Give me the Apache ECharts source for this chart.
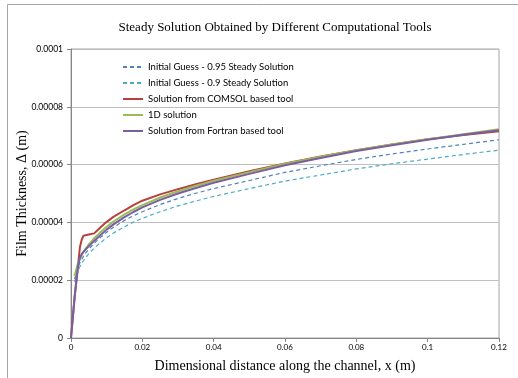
<!DOCTYPE html>
<html>
<head>
<meta charset="utf-8">
<script src="https://cdn.jsdelivr.net/npm/echarts@6/dist/echarts.min.js"></script>
<style>
  html, body { margin: 0; padding: 0; background: #fff; }
  #chart1 { width: 518px; height: 378px; }
</style>
</head>
<body>
<div id="chart1"></div>
<script>
// x positions along the channel (m)
const xs = [0, 0.001, 0.002, 0.0025, 0.003, 0.0035, 0.004, 0.005, 0.0065, 0.008, 0.01, 0.012, 0.015, 0.0175, 0.02,
  0.025, 0.03, 0.035, 0.04, 0.05, 0.06, 0.07, 0.08, 0.09, 0.1, 0.11, 0.12];

// film thickness, in units of 1e-5 m ('-' = no point)
const guess095 = ['-', 2.04, 2.45, 2.6, 2.73, 2.83, 2.92, 3.08, 3.28, 3.45, 3.66, 3.84, 4.07, 4.23, 4.37,
  4.62, 4.83, 5.01, 5.17, 5.45, 5.73, 5.96, 6.18, 6.37, 6.54, 6.7, 6.86];
const guess090 = ['-', 1.94, 2.33, 2.47, 2.58, 2.68, 2.76, 2.92, 3.11, 3.27, 3.47, 3.64, 3.85, 4.01, 4.14,
  4.37, 4.57, 4.74, 4.9, 5.17, 5.43, 5.64, 5.85, 6.03, 6.19, 6.35, 6.5];
const comsol = [0, 1.4, 2.55, 3.14, 3.4, 3.54, 3.56, 3.58, 3.62, 3.8, 4.02, 4.2, 4.42, 4.6, 4.75,
  4.97, 5.15, 5.32, 5.48, 5.77, 6.04, 6.28, 6.5, 6.7, 6.88, 7.02, 7.15];
const oneD = ['-', 2.15, 2.6, 2.74, 2.87, 2.98, 3.07, 3.24, 3.45, 3.63, 3.85, 4.04, 4.28, 4.45, 4.6,
  4.86, 5.08, 5.27, 5.44, 5.74, 6.03, 6.27, 6.5, 6.7, 6.88, 7.05, 7.22];
const fortran = [0, 1.4, 2.52, 2.78, 2.9, 2.98, 3.05, 3.18, 3.36, 3.53, 3.75, 3.94, 4.18, 4.36, 4.52,
  4.78, 5.0, 5.19, 5.37, 5.68, 5.98, 6.23, 6.47, 6.67, 6.86, 7.03, 7.19];

const seriesNames = [
  'Initial Guess - 0.95 Steady Solution',
  'Initial Guess - 0.9 Steady Solution',
  'Solution from COMSOL based tool',
  '1D solution',
  'Solution from Fortran based tool'
];

const toPairs = (vals) => xs.map((x, i) => [x, vals[i] === '-' ? '-' : vals[i] * 1e-5]);

const chartDiv = document.getElementById('chart1');
const myChart = echarts.init(chartDiv, null, { renderer: 'canvas' });

const mkLine = (name, vals, color, width, dashed) => ({
  name: name,
  type: 'line',
  data: toPairs(vals),
  symbol: 'none',
  smooth: false,
  connectNulls: false,
  color: color,
  lineStyle: { color: color, width: width, type: dashed ? [4, 3] : 'solid' }
});

const option = {
  animation: false,
  backgroundColor: '#fff',
  graphic: [
    {
      type: 'rect',
      shape: { x: 7.5, y: 4.5, width: 620, height: 400 },
      style: { fill: 'none', stroke: '#a6a6a6', lineWidth: 1 }
    },
    {
      type: 'text',
      x: 275, y: 28,
      style: {
        text: 'Steady Solution Obtained by Different Computational Tools',
        font: '13px "Liberation Serif"',
        fill: '#000',
        textAlign: 'center',
        textVerticalAlign: 'middle'
      }
    }
  ],
  grid: {
    left: 71, right: 19, top: 49, bottom: 36,
    show: true, borderColor: '#a6a6a6', borderWidth: 1
  },
  legend: {
    orient: 'vertical',
    left: 122, top: 62,
    padding: 0,
    itemWidth: 20, itemHeight: 10, itemGap: 6,
    data: seriesNames,
    itemStyle: { opacity: 0 },
    textStyle: { fontFamily: 'Lato', fontSize: 9.5, color: '#000', lineHeight: 10 }
  },
  xAxis: {
    type: 'value',
    min: 0, max: 0.12, interval: 0.02,
    name: 'Dimensional distance along the channel, x (m)',
    nameLocation: 'middle', nameGap: 21, nameMoveOverlap: false,
    nameTextStyle: { fontFamily: 'Liberation Serif', fontSize: 14, color: '#000' },
    axisLine: { show: true, lineStyle: { color: '#868686' } },
    axisTick: { show: true, length: 4, lineStyle: { color: '#868686' } },
    axisLabel: {
      fontFamily: 'Lato', fontSize: 8, color: '#000', margin: 5,
      formatter: (v) => parseFloat(v.toFixed(2)).toString()
    },
    splitLine: { show: false }
  },
  yAxis: {
    type: 'value',
    min: 0, max: 0.0001, interval: 0.00002,
    name: 'Film Thickness, \u0394 (m)',
    nameLocation: 'middle', nameGap: 42, nameMoveOverlap: false,
    nameTextStyle: { fontFamily: 'Liberation Serif', fontSize: 14, color: '#000' },
    axisLine: { show: true, lineStyle: { color: '#868686' } },
    axisTick: { show: true, length: 4, lineStyle: { color: '#868686' } },
    axisLabel: {
      fontFamily: 'Lato', fontSize: 8.5, color: '#000', margin: 8,
      formatter: (v) => v === 0 ? '0' : parseFloat(v.toFixed(5)).toString()
    },
    splitLine: { show: true, lineStyle: { color: '#bfbfbf', width: 1 } }
  },
  series: [
    mkLine(seriesNames[0], guess095, '#4f81bd', 1.2, true),
    mkLine(seriesNames[1], guess090, '#4bacc6', 1.2, true),
    mkLine(seriesNames[2], comsol, '#b8403c', 2, false),
    mkLine(seriesNames[3], oneD, '#9bbb59', 2, false),
    mkLine(seriesNames[4], fortran, '#7a5fa0', 2, false)
  ]
};

myChart.setOption(option);
</script>
</body>
</html>
